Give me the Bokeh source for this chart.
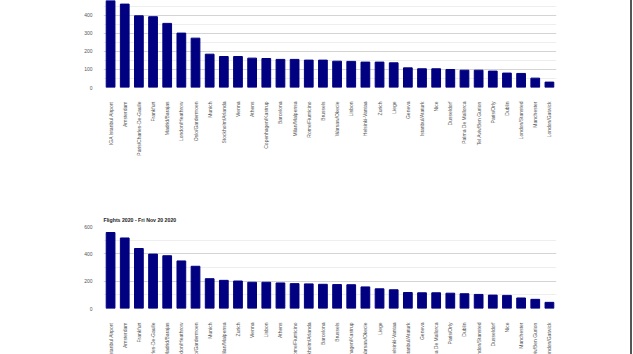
from math import pi
from bokeh.plotting import figure
from bokeh.layouts import column
from bokeh.models import FixedTicker, Range1d
from bokeh.embed import file_html
from bokeh.resources import INLINE

# ---------------- data ----------------
top_airports = [
    "IGA Istanbul Airport", "Amsterdam", "Paris/Charles-De-Gaulle", "Frankfurt",
    "Madrid/Barajas", "London/Heathrow", "Oslo/Gardermoen", "Munich",
    "Stockholm/Arlanda", "Vienna", "Athens", "Copenhagen/Kastrup", "Barcelona",
    "Milan/Malpensa", "Rome/Fiumicino", "Brussels", "Warsaw/Okecie", "Lisbon",
    "Helsinki-Vantaa", "Zurich", "Liege", "Geneva", "Istanbul/Ataturk", "Nice",
    "Dusseldorf", "Palma De Mallorca", "Tel Aviv/Ben Gurion", "Paris/Orly",
    "Dublin", "London/Stansted", "Manchester", "London/Gatwick",
]
top_flights = [
    492, 463, 398, 393, 356, 302, 274, 185, 172, 172, 163, 161, 156, 156, 152,
    152, 146, 145, 141, 141, 137, 109, 104, 104, 100, 96, 96, 91, 80, 78, 52, 30,
]

bottom_title = "Flights 2020 - Fri Nov 20 2020"
bottom_airports = [
    "IGA Istanbul Airport", "Amsterdam", "Frankfurt", "Paris/Charles-De-Gaulle",
    "Madrid/Barajas", "London/Heathrow", "Oslo/Gardermoen", "Munich",
    "Milan/Malpensa", "Zurich", "Vienna", "Lisbon", "Athens", "Rome/Fiumicino",
    "Stockholm/Arlanda", "Barcelona", "Brussels", "Copenhagen/Kastrup",
    "Warsaw/Okecie", "Liege", "Helsinki-Vantaa", "Istanbul/Ataturk", "Geneva",
    "Palma De Mallorca", "Paris/Orly", "Dublin", "London/Stansted", "Dusseldorf",
    "Nice", "Manchester", "Tel Aviv/Ben Gurion", "London/Gatwick",
]
bottom_flights = [
    556, 516, 439, 398, 386, 348, 309, 218, 206, 201, 192, 192, 187, 182, 180,
    177, 175, 174, 158, 144, 137, 117, 115, 115, 112, 108, 103, 98, 96, 77, 67, 45,
]

top_major_ticks = [0, 100, 200, 300, 400, 500]
top_minor_ticks = [50, 150, 250, 350, 450]
bottom_major_ticks = [0, 200, 400, 600]
bottom_minor_ticks = [100, 300, 500]

# ---------------- style ----------------
FONT = "Liberation Sans"
BAR = "#000080"
LABEL = "#555555"


def make_fig(airports, flights, y_end, height, b_top, b_bottom, major, minor, title=None):
    p = figure(
        x_range=airports, y_range=Range1d(0, y_end),
        width=630, height=height,
        output_backend="svg", toolbar_location=None,
        min_border_left=103, min_border_right=74,
        min_border_top=b_top, min_border_bottom=b_bottom,
        title=title,
    )
    p.vbar(x=airports, top=flights, width=0.618, fill_color=BAR, line_color=BAR)
    p.outline_line_color = None
    p.background_fill_color = "white"
    p.border_fill_color = "white"

    p.xgrid.grid_line_color = None
    p.yaxis.ticker = FixedTicker(ticks=major, minor_ticks=minor)
    p.ygrid.grid_line_color = "#d4d4d4"
    p.ygrid.minor_grid_line_color = "#eeeeee"

    for ax in (p.xaxis, p.yaxis):
        ax.axis_line_color = None
        ax.major_tick_line_color = None
        ax.minor_tick_line_color = None
        ax.major_label_text_font = FONT
        ax.major_label_text_font_size = "5px"
        ax.major_label_text_color = LABEL
    p.yaxis.major_label_standoff = 5
    p.xaxis.major_label_standoff = 8
    p.xaxis.major_label_orientation = pi / 2
    return p


p1 = make_fig(top_airports, top_flights, 483, 205, 0, 118,
              top_major_ticks, top_minor_ticks)

p2 = make_fig(bottom_airports, bottom_flights, 600, 174, 21, 70,
              bottom_major_ticks, bottom_minor_ticks, title=bottom_title)
p2.title.text_font = FONT
p2.title.text_font_size = "5.2px"
p2.title.text_font_style = "bold"
p2.title.text_color = "#222222"
p2.title.align = "left"
p2.title.offset = 0
p2.title.standoff = 7

layout = column(
    p1, p2, width=632, height=354,
    styles={"overflow": "hidden", "border-right": "2px solid #555555",
            "background-color": "white"},
)

open("out.html", "w").write(file_html(layout, INLINE))
